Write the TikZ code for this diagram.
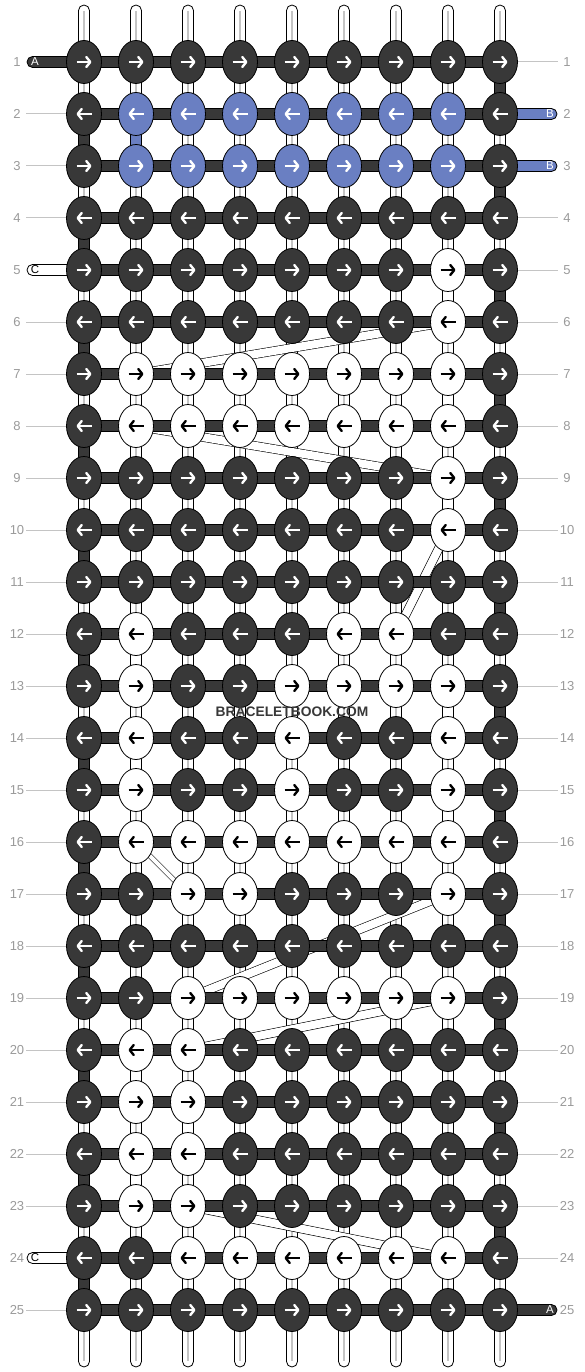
\documentclass[tikz,border=0pt]{standalone}
\usepackage{fontspec}
\setmainfont{Liberation Sans}
\usetikzlibrary{arrows.meta,shapes.geometric}

\definecolor{knotgrey}{HTML}{383838}
\definecolor{knotblue}{HTML}{6A7FC2}
\definecolor{numgrey}{HTML}{9A9A9A}
\definecolor{lightgrey}{HTML}{C4C4C4}
\colorlet{fill-d}{knotgrey}
\colorlet{fill-b}{knotblue}
\colorlet{fill-w}{white}
\colorlet{tip-d}{white}
\colorlet{tip-b}{white}
\colorlet{tip-w}{black}

\pgfdeclarelayer{warps}
\pgfdeclarelayer{wefts}
\pgfsetlayers{warps,wefts,main}

\begin{document}
\begin{tikzpicture}[x=1pt,y=-1pt]
      \tikzset { knot/.style = { shape=ellipse,draw,line width=0.8pt,minimum width=35pt,minimum height=43pt,inner sep=0pt } }
      \tikzset { heading/.style = { line width=2.4pt,-{Straight Barb[length=4pt,width=10pt,round]} } }
      \tikzset { warp/.style = { draw,fill=white,line width=0.8pt,rounded corners=5.5pt } }
      \tikzset { weft/.style = { draw,line width=0.8pt } }
      \tikzset { carry/.style = { draw=black,line width=0.6pt,double=white,double distance=8pt } }
      \tikzset { rownum/.style = { text=numgrey,font=\fontsize{13}{13}\selectfont,inner sep=0pt } }
      \tikzset { tag/.style = { font=\fontsize{11.5}{12}\selectfont,inner sep=0pt } }
      \tikzset { guide/.style = { draw=lightgrey,line width=1pt } }

      \useasboundingbox (0,0) rectangle (584,1372);

      % knots: d = grey, b = blue, w = white
      \foreach \r/\pat in {1/{d,d,d,d,d,d,d,d,d},2/{d,b,b,b,b,b,b,b,d},3/{d,b,b,b,b,b,b,b,d},
          4/{d,d,d,d,d,d,d,d,d},5/{d,d,d,d,d,d,d,w,d},6/{d,d,d,d,d,d,d,w,d},
          7/{d,w,w,w,w,w,w,w,d},8/{d,w,w,w,w,w,w,w,d},9/{d,d,d,d,d,d,d,w,d},
          10/{d,d,d,d,d,d,d,w,d},11/{d,d,d,d,d,d,d,d,d},12/{d,w,d,d,d,w,w,d,d},
          13/{d,w,d,d,w,w,w,w,d},14/{d,w,d,d,w,d,d,w,d},15/{d,w,d,d,w,d,d,w,d},
          16/{d,w,w,w,w,w,w,w,d},17/{d,d,w,w,d,d,d,w,d},18/{d,d,d,d,d,d,d,d,d},
          19/{d,d,w,w,w,w,w,w,d},20/{d,w,w,d,d,d,d,d,d},21/{d,w,w,d,d,d,d,d,d},
          22/{d,w,w,d,d,d,d,d,d},23/{d,w,w,d,d,d,d,d,d},24/{d,d,w,w,w,w,w,w,d},
          25/{d,d,d,d,d,d,d,d,d}} {
        \pgfmathsetmacro{\y}{10+52*\r}
        \pgfmathsetmacro{\tail}{ifthenelse(mod(\r,2)==0,7.5,-7.5)}
        \pgfmathsetmacro{\tip}{ifthenelse(mod(\r,2)==0,-7.5,7.5)}
        \foreach \k [count=\c] in \pat {
          \node[knot,fill=fill-\k] (k-\r-\c) at ({32+52*\c},\y) {};
          \draw[heading,draw=tip-\k] ([xshift=\tail pt]k-\r-\c.center) -- ([xshift=\tip pt]k-\r-\c.center);
        }
        \node[rownum] (ln-\r) at (17,\y) {\r};
        \node[rownum] (rn-\r) at (567,\y) {\r};
      }

      \begin{pgfonlayer}{warps}
        \foreach \c in {1,...,9} {
          \draw[warp] ({26.5+52*\c},5) rectangle ({37.5+52*\c},1367);
          \draw[lightgrey,line width=1.2pt] ({32+52*\c},11) -- ({32+52*\c},1361);
        }
        % carried white string
        \draw[carry] (k-6-8.center) -- (k-7-2.center);
        \draw[carry] (k-8-2.center) -- (k-9-8.center);
        \draw[carry] (k-10-8.center) -- (k-12-7.center);
        \draw[carry,double distance=4pt] (k-16-2.center) -- (k-17-3.center);
        \draw[carry] (k-17-8.center) -- (k-19-3.center);
        \draw[carry] (k-19-8.center) -- (k-20-3.center);
        \draw[carry] (k-23-3.center) -- (k-24-8.center);
      \end{pgfonlayer}

      \begin{pgfonlayer}{wefts}
        % turns at the edges
        \foreach \r [evaluate=\r as \n using int(\r+1)] in {2,4,...,24}
          \draw[weft,fill=knotgrey] ([xshift=-5.5pt]k-\r-1.center) rectangle ([xshift=5.5pt]k-\n-1.center);
        \foreach \r [evaluate=\r as \n using int(\r+1)] in {1,3,...,23}
          \draw[weft,fill=knotgrey] ([xshift=-5.5pt]k-\r-9.center) rectangle ([xshift=5.5pt]k-\n-9.center);
        \draw[weft,fill=knotblue] ([xshift=-5.5pt]k-2-2.center) rectangle ([xshift=5.5pt]k-3-2.center);
        \foreach \c/\r/\n in {8/5/6,8/7/8,8/9/10,2/12/13,8/13/14,2/14/15,8/15/16,2/20/21,3/21/22,2/22/23}
          \draw[weft,fill=white] ([xshift=-5.5pt]k-\r-\c.center) rectangle ([xshift=5.5pt]k-\n-\c.center);
        % rows
        \foreach \r in {1,...,25}
          \draw[weft,fill=knotgrey] ([yshift=5.5pt]k-\r-1.center) rectangle ([yshift=-5.5pt]k-\r-9.center);
        % loose ends
        \draw[weft,fill=knotgrey,rounded corners=5.5pt] (27,56.5) rectangle (84,67.5);
        \draw[weft,fill=white,rounded corners=5.5pt] (27,264.5) rectangle (84,275.5);
        \draw[weft,fill=white,rounded corners=5.5pt] (27,1252.5) rectangle (84,1263.5);
        \draw[weft,fill=knotblue,rounded corners=5.5pt] (500,108.5) rectangle (557,119.5);
        \draw[weft,fill=knotblue,rounded corners=5.5pt] (500,160.5) rectangle (557,171.5);
        \draw[weft,fill=knotgrey,rounded corners=5.5pt] (500,1304.5) rectangle (557,1315.5);
      \end{pgfonlayer}

      \node[tag,text=white] (end-a1) at (35,62) {A};
      \node[tag] (end-c5) at (35,270) {C};
      \node[tag] (end-c24) at (35,1258) {C};
      \node[tag,text=white] (end-b2) at (550,114) {B};
      \node[tag,text=white] (end-b3) at (550,166) {B};
      \node[tag,text=white] (end-a25) at (550,1310) {A};

      \foreach \r in {2,3,4,6,7,8,9,10,11,12,13,14,15,16,17,18,19,20,21,22,23,25}
        \draw[guide] ([xshift=9pt]ln-\r.center) -- (k-\r-1.west);
      \foreach \r in {1,4,5,6,7,8,9,10,11,12,13,14,15,16,17,18,19,20,21,22,23,24}
        \draw[guide] (k-\r-9.east) -- ([xshift=-9pt]rn-\r.center);

      \node[font=\bfseries\fontsize{13.8}{14}\selectfont,text=knotgrey] (mark) at (292,712) {BRACELETBOOK.COM};

    \end{tikzpicture}
\end{document}
